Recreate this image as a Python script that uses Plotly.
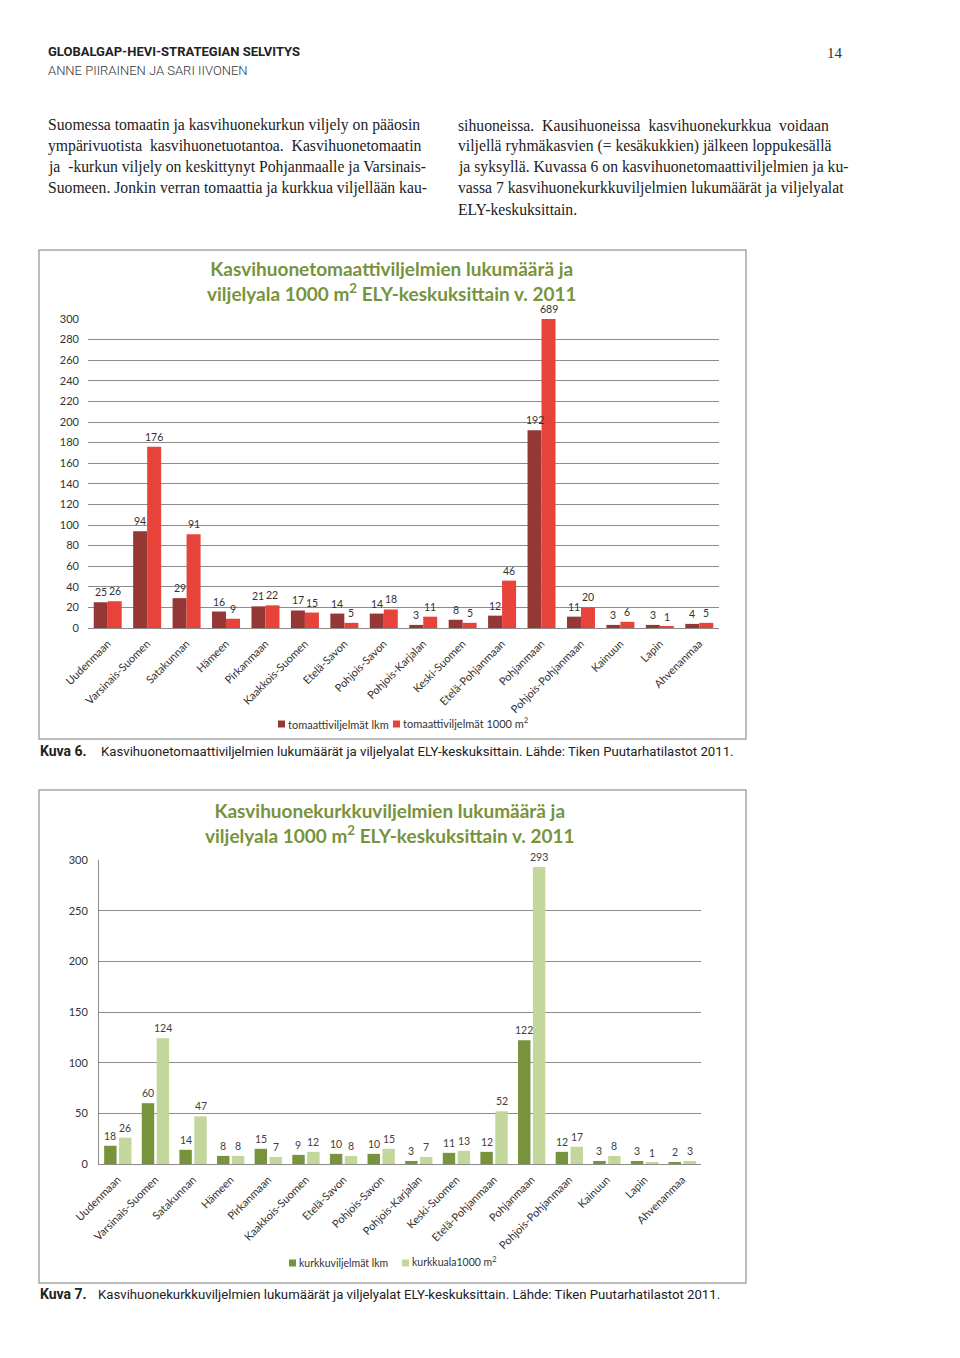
import plotly.graph_objects as go

W, H = 960, 1358

categories = ["Uudenmaan", "Varsinais-Suomen", "Satakunnan", "Hämeen", "Pirkanmaan",
              "Kaakkois-Suomen", "Etelä-Savon", "Pohjois-Savon", "Pohjois-Karjalan",
              "Keski-Suomen", "Etelä-Pohjanmaan", "Pohjanmaan", "Pohjois-Pohjanmaan",
              "Kainuun", "Lapin", "Ahvenanmaa"]
tomato_count = [25, 94, 29, 16, 21, 17, 14, 14, 3, 8, 12, 192, 11, 3, 3, 4]
tomato_area = [26, 176, 91, 9, 22, 15, 5, 18, 11, 5, 46, 689, 20, 6, 1, 5]
cucumber_count = [18, 60, 14, 8, 15, 9, 10, 10, 3, 11, 12, 122, 12, 3, 3, 2]
cucumber_area = [26, 124, 47, 8, 7, 12, 8, 15, 7, 13, 52, 293, 17, 8, 1, 3]

tomato_ticks = list(range(0, 301, 20))
cucumber_ticks = list(range(0, 301, 50))

series_names = ["tomaattiviljelmät lkm", "tomaattiviljelmät 1000 m<sup>2</sup>",
                "kurkkuviljelmät lkm", "kurkkuala1000 m<sup>2</sup>"]

left_lines = [
    "Suomessa tomaatin ja kasvihuonekurkun viljely on pääosin",
    "ympärivuotista  kasvihuonetuotantoa.  Kasvihuonetomaatin",
    "ja  -kurkun viljely on keskittynyt Pohjanmaalle ja Varsinais-",
    "Suomeen. Jonkin verran tomaattia ja kurkkua viljellään kau-",
]
right_lines = [
    "sihuoneissa.  Kausihuoneissa  kasvihuonekurkkua  voidaan",
    "viljellä ryhmäkasvien (= kesäkukkien) jälkeen loppukesällä",
    "ja syksyllä. Kuvassa 6 on kasvihuonetomaattiviljelmien ja ku-",
    "vassa 7 kasvihuonekurkkuviljelmien lukumäärät ja viljelyalat",
    "ELY-keskuksittain.",
]


def px(x):
    return x / W


def py(y):
    return 1 - y / H


SANS = "Lato, Open Sans, sans-serif"
SERIF = "Liberation Serif, DejaVu Serif, serif"
GREEN_TITLE = "#77933C"
DARK_RED = "#953735"
RED = "#E8433A"
DARK_GREEN = "#77933C"
LIGHT_GREEN = "#C3D69B"
colors = [DARK_RED, RED, DARK_GREEN, LIGHT_GREEN]

xs = list(range(len(categories)))
fig = go.Figure()

# chart 1
w1 = 0.355
fig.add_trace(go.Bar(x=xs, y=tomato_count, width=w1, offset=-w1, marker_color=DARK_RED,
                     name=series_names[0], showlegend=False, xaxis="x", yaxis="y"))
fig.add_trace(go.Bar(x=xs, y=tomato_area, width=w1, offset=0, marker_color=RED,
                     name=series_names[1], showlegend=False, xaxis="x", yaxis="y"))
# chart 2
w2 = 0.33
g2 = 0.033
fig.add_trace(go.Bar(x=xs, y=cucumber_count, width=w2, offset=-(w2 + g2), marker_color=DARK_GREEN,
                     name=series_names[2], showlegend=False, xaxis="x2", yaxis="y2"))
fig.add_trace(go.Bar(x=xs, y=cucumber_area, width=w2, offset=g2, marker_color=LIGHT_GREEN,
                     name=series_names[3], showlegend=False, xaxis="x2", yaxis="y2"))

annotations = []
shapes = []


def add_labels(vals, centre, ymax, xr, yr, color):
    for i, v in enumerate(vals):
        annotations.append(dict(x=i + centre, y=min(v, ymax), xref=xr, yref=yr, text=str(v),
                                showarrow=False, yanchor="bottom", yshift=2,
                                font=dict(family=SANS, size=10.5, color=color)))


add_labels(tomato_count, -w1 / 2, 300, "x", "y", "#333333")
add_labels(tomato_area, w1 / 2, 300, "x", "y", "#333333")
add_labels(cucumber_count, -(w2 / 2 + g2), 300, "x2", "y2", "#404040")
add_labels(cucumber_area, w2 / 2 + g2, 300, "x2", "y2", "#404040")

# legends (key square + label)
legend_pos = [(278, 724), (393, 724), (289, 1263), (402, 1263)]
legend_size = [11, 11, 10.5, 10.5]
for (lx, ly), name, col, fs in zip(legend_pos, series_names, colors, legend_size):
    shapes.append(dict(type="rect", xref="paper", yref="paper",
                       x0=px(lx), x1=px(lx + 7), y0=py(ly + 3.5), y1=py(ly - 3.5),
                       fillcolor=col, line=dict(width=0)))
    annotations.append(dict(x=px(lx + 8), y=py(ly), xref="paper", yref="paper", text=name,
                            showarrow=False, xanchor="left", yanchor="middle",
                            yshift=2 if "<sup>" in name else 0,
                            font=dict(family=SANS, size=fs, color="#333333")))

# chart titles
annotations.append(dict(x=px(392), y=py(281), xref="paper", yref="paper",
                        text="<b>Kasvihuonetomaattiviljelmien lukumäärä ja<br>viljelyala 1000 m<sup>2</sup> ELY-keskuksittain v. 2011</b>",
                        showarrow=False, xanchor="center", yanchor="middle", align="center",
                        font=dict(family=SANS, size=19, color=GREEN_TITLE)))
annotations.append(dict(x=px(390), y=py(823), xref="paper", yref="paper",
                        text="<b>Kasvihuonekurkkuviljelmien lukumäärä ja<br>viljelyala 1000 m<sup>2</sup> ELY-keskuksittain v. 2011</b>",
                        showarrow=False, xanchor="center", yanchor="middle", align="center",
                        font=dict(family=SANS, size=19, color=GREEN_TITLE)))

# header
annotations.append(dict(x=px(46), y=py(52), xref="paper", yref="paper",
                        text="<b>GLOBALGAP-HEVI-STRATEGIAN SELVITYS</b>", showarrow=False,
                        xanchor="left", yanchor="middle",
                        font=dict(family="Roboto, sans-serif", size=13, color="#222222")))
annotations.append(dict(x=px(46), y=py(70), xref="paper", yref="paper",
                        text="ANNE PIIRAINEN JA SARI IIVONEN", showarrow=False,
                        xanchor="left", yanchor="middle",
                        font=dict(family="Roboto, sans-serif", size=13, color="#333333", weight=300)))
annotations.append(dict(x=px(845), y=py(53), xref="paper", yref="paper",
                        text="14", showarrow=False, xanchor="right", yanchor="middle",
                        font=dict(family=SERIF, size=15, color="#333333")))

# paragraphs
for k, line in enumerate(left_lines):
    annotations.append(dict(x=px(46), y=py(125 + 21 * k), xref="paper", yref="paper",
                            text=line, showarrow=False, xanchor="left", yanchor="middle",
                            font=dict(family=SERIF, size=15.7, color="#222222")))
for k, line in enumerate(right_lines):
    annotations.append(dict(x=px(456), y=py(125 + 21 * k), xref="paper", yref="paper",
                            text=line, showarrow=False, xanchor="left", yanchor="middle",
                            font=dict(family=SERIF, size=15.7, color="#222222")))

# captions
for yy, x0, num, txt in [(751, 99, "Kuva 6.", "Kasvihuonetomaattiviljelmien lukumäärät ja viljelyalat ELY-keskuksittain. Lähde: Tiken Puutarhatilastot 2011."),
                         (1294, 96, "Kuva 7.", "Kasvihuonekurkkuviljelmien lukumäärät ja viljelyalat ELY-keskuksittain. Lähde: Tiken Puutarhatilastot 2011.")]:
    annotations.append(dict(x=px(38), y=py(yy), xref="paper", yref="paper",
                            text="<b>" + num + "</b>", showarrow=False, xanchor="left", yanchor="middle",
                            font=dict(family="Roboto, sans-serif", size=14, color="#222222")))
    annotations.append(dict(x=px(x0), y=py(yy), xref="paper", yref="paper",
                            text=txt, showarrow=False, xanchor="left", yanchor="middle",
                            font=dict(family="Roboto, sans-serif", size=13.2, color="#222222")))

shapes += [
    dict(type="rect", xref="paper", yref="paper", x0=px(39), x1=px(746), y0=py(739), y1=py(250),
         line=dict(color="#a6a6a6", width=1.5)),
    dict(type="rect", xref="paper", yref="paper", x0=px(39), x1=px(746), y0=py(1283), y1=py(790),
         line=dict(color="#a6a6a6", width=1.5)),
]

tickfont = dict(family=SANS, size=11, color="#333333")
fig.update_layout(
    template="none",
    width=W, height=H, margin=dict(l=0, r=0, t=0, b=0, pad=0, autoexpand=False),
    paper_bgcolor="white", plot_bgcolor="white",
    barmode="overlay", showlegend=False,
    xaxis=dict(domain=[px(88), px(719)], range=[-0.5, 15.5], tickvals=xs, ticktext=categories,
               tickangle=-45, tickfont=tickfont, showgrid=False, showline=True, automargin=False,
               linecolor="#8c8c8c", linewidth=1, ticks="", ticklabelstandoff=4, anchor="y"),
    yaxis=dict(domain=[py(628), py(319)], range=[0, 300], tickvals=tomato_ticks, automargin=False,
               tickfont=tickfont, showgrid=True, gridcolor="#8c8c8c", gridwidth=1,
               zeroline=False, showline=False, ticks="", ticklabelstandoff=8, anchor="x"),
    xaxis2=dict(domain=[px(99), px(701)], range=[-0.5, 15.5], tickvals=xs, ticktext=categories,
                tickangle=-45, tickfont=tickfont, showgrid=False, showline=True, automargin=False,
                linecolor="#8c8c8c", linewidth=1, ticks="", ticklabelstandoff=4, anchor="y2"),
    yaxis2=dict(domain=[py(1164), py(860)], range=[0, 300], tickvals=cucumber_ticks, automargin=False,
                tickfont=tickfont, showgrid=True, gridcolor="#8c8c8c", gridwidth=1,
                zeroline=False, showline=True, linecolor="#8c8c8c", linewidth=1,
                ticks="", ticklabelstandoff=8, anchor="x2"),
    annotations=annotations,
    shapes=shapes,
)

fig.write_html("out.html", config={"displayModeBar": False},
               post_script="document.body.style.margin='0';document.body.style.overflow='hidden';")
